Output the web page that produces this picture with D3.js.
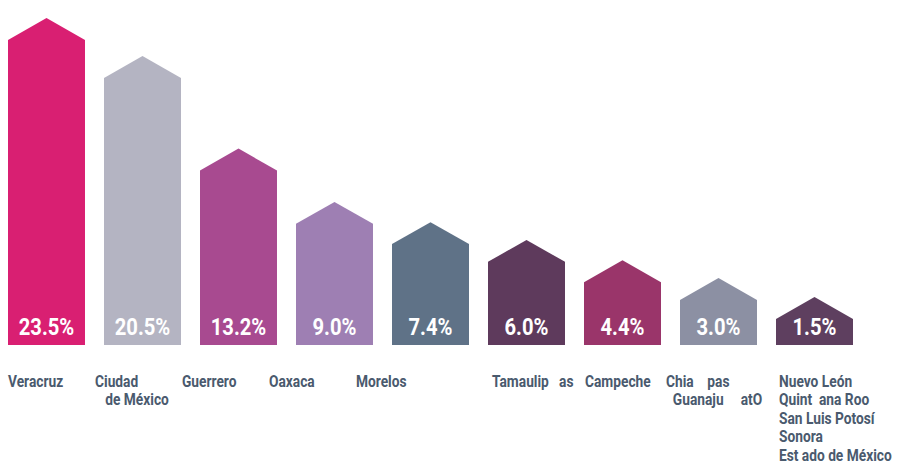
<!DOCTYPE html>
<html>
<head>
<meta charset="utf-8">
<script src="https://cdn.jsdelivr.net/npm/d3@7"></script>
<style>
  html, body { margin: 0; padding: 0; background: #fff; }
  svg { display: block; }
  .lbl { white-space: pre; }
</style>
</head>
<body>
<svg id="chart"></svg>
<script>
// data
const states = ["Veracruz", "Ciudad de México", "Guerrero", "Oaxaca", "Morelos",
                "Tamaulipas", "Campeche", "Chiapas / Guanajuato", "Otros"]
const shares = [23.5, 20.5, 13.2, 9.0, 7.4, 6.0, 4.4, 3.0, 1.5]
const labelLines = [
    ["Veracruz"],
    ["Ciudad", "   de México"],
    ["Guerrero"],
    ["Oaxaca"],
    ["Morelos"],
    ["Tamaulip   as"],
    ["Campeche"],
    ["Chia    pas", "  Guanaju     atO"],
    ["Nuevo León", "Quint  ana Roo", "San Luis Potosí", "Sonora", "Est ado de México"]
]
const colors = ["#d91f72", "#b4b4c2", "#a84a90", "#9e7fb3", "#5f7287",
                "#5e3a5c", "#9a356a", "#8c90a3", "#5e3f5f"]

const width = 898, height = 462
const bottom = 345
const font = "Roboto, 'Liberation Sans', sans-serif"
// no condensed face installed, so squeeze the glyphs horizontally
const squeeze = 0.86

const svg = d3.select("#chart")
    .attr("width", width)
    .attr("height", height)

const x = d3.scaleBand()
    .domain(states)
    .range([8, 853])
    .paddingInner(0.198)
    .paddingOuter(0)

// bars keep a minimum height for the value box
const y = d3.scaleLinear()
    .domain([0, 25])
    .range([316, -1])

const roof = x.bandwidth() * 0.285

// the label row does not follow the bars exactly
const labelX = d3.scaleLinear()
    .domain([0, 4, 5, 6, 7, 8])
    .range([8, 356, 492, 585, 666, 779])

const data = states.map((s, i) => ({ state: s, value: shares[i], color: colors[i], lines: labelLines[i], i }))

const house = d => {
    const x0 = x(d.state), x1 = x0 + x.bandwidth()
    const top = y(d.value)
    return `M${x0},${bottom}V${top + roof}L${(x0 + x1) / 2},${top}L${x1},${top + roof}V${bottom}Z`
}

svg.append("g")
    .selectAll("path")
    .data(data)
    .join("path")
    .attr("d", house)
    .attr("fill", d => d.color)

svg.append("g")
    .attr("font-family", font)
    .attr("font-weight", "bold")
    .attr("font-size", 23.5)
    .attr("fill", "#fff")
    .attr("text-anchor", "middle")
    .selectAll("text")
    .data(data)
    .join("text")
    .attr("transform", d => `translate(${x(d.state) + x.bandwidth() / 2},335) scale(${squeeze},1)`)
    .text(d => d.value.toFixed(1) + "%")

const labels = svg.append("g")
    .attr("font-family", font)
    .attr("font-weight", "bold")
    .attr("font-size", 16)
    .attr("fill", "#4a5a6e")
    .selectAll("text")
    .data(data)
    .join("text")
    .attr("class", "lbl")
    .attr("transform", d => `translate(${labelX(d.i)},387) scale(${squeeze},1)`)

labels.selectAll("tspan")
    .data(d => d.lines.map((l, k) => ({ l, k })))
    .join("tspan")
    .attr("x", 0)
    .attr("dy", d => d.k === 0 ? 0 : 18.5)
    .text(d => d.l)
</script>
</body>
</html>
